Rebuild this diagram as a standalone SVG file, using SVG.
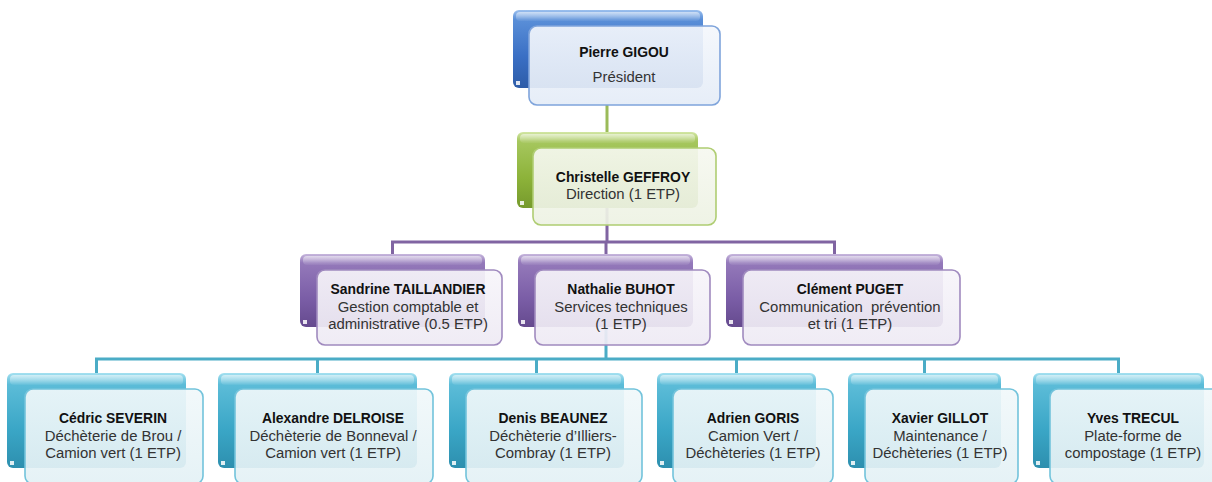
<svg xmlns="http://www.w3.org/2000/svg" width="1212" height="482" viewBox="0 0 1212 482">
<defs>
<linearGradient id="gBlue" x1="0" y1="0" x2="0" y2="1">
<stop offset="0" stop-color="#9cc0ee"/><stop offset="0.12" stop-color="#5a8fd8"/><stop offset="0.6" stop-color="#3a6fc4"/><stop offset="1" stop-color="#2d5ca8"/>
</linearGradient>
<linearGradient id="gGreen" x1="0" y1="0" x2="0" y2="1">
<stop offset="0" stop-color="#d2e6a4"/><stop offset="0.12" stop-color="#a6c75e"/><stop offset="0.6" stop-color="#8db33a"/><stop offset="1" stop-color="#769a2c"/>
</linearGradient>
<linearGradient id="gPurple" x1="0" y1="0" x2="0" y2="1">
<stop offset="0" stop-color="#c6b6dc"/><stop offset="0.12" stop-color="#9479ba"/><stop offset="0.6" stop-color="#7b5ea7"/><stop offset="1" stop-color="#654a8e"/>
</linearGradient>
<linearGradient id="gCyan" x1="0" y1="0" x2="0" y2="1">
<stop offset="0" stop-color="#a4e0f0"/><stop offset="0.12" stop-color="#5cbcd8"/><stop offset="0.6" stop-color="#3aa6c6"/><stop offset="1" stop-color="#2d8fae"/>
</linearGradient>
<linearGradient id="fBlue" x1="0" y1="0" x2="0" y2="1"><stop offset="0" stop-color="#f4f7fc"/><stop offset="1" stop-color="#e4ecf7"/></linearGradient>
<linearGradient id="fGreen" x1="0" y1="0" x2="0" y2="1"><stop offset="0" stop-color="#f6f8f0"/><stop offset="1" stop-color="#edf2e3"/></linearGradient>
<linearGradient id="fPurple" x1="0" y1="0" x2="0" y2="1"><stop offset="0" stop-color="#f7f5fa"/><stop offset="1" stop-color="#eeeaf4"/></linearGradient>
<linearGradient id="fCyan" x1="0" y1="0" x2="0" y2="1"><stop offset="0" stop-color="#f1f8fa"/><stop offset="1" stop-color="#e3f1f5"/></linearGradient>
<linearGradient id="shine" x1="0" y1="0" x2="0" y2="1"><stop offset="0" stop-color="#ffffff" stop-opacity="0.55"/><stop offset="1" stop-color="#ffffff" stop-opacity="0.05"/></linearGradient>
</defs>
<style>
.back{rx:6px;ry:6px;}
.shine{fill:url(#shine);}
.dot{fill:#ffffff;opacity:0.85;}
.front{rx:8px;ry:8px;stroke-width:1.6;fill-opacity:0.92;}
.blue .back{fill:url(#gBlue);} .blue .front{fill:url(#fBlue);stroke:#7fa4db;}
.green .back{fill:url(#gGreen);} .green .front{fill:url(#fGreen);stroke:#afcd72;}
.purple .back{fill:url(#gPurple);} .purple .front{fill:url(#fPurple);stroke:#a08abf;}
.cyan .back{fill:url(#gCyan);} .cyan .front{fill:url(#fCyan);stroke:#72c3db;}
text{font-family:"Liberation Sans",Arial,sans-serif;text-anchor:middle;}
.n{font-size:13.9px;font-weight:bold;fill:#111111;}
.r{font-size:14.9px;fill:#333333;}
.pre{white-space:pre;}
.c{fill:none;stroke-width:3;}
</style>
<g id="connectors">
<path class="c" stroke="#9bbb59" d="M607 105V132"/>
<path class="c" stroke="#8064a2" d="M607 207V242M392.5 254V242H834.5V254M606 242V254"/>
<path class="c" stroke="#4bacc6" d="M606 327V359M96.5 373V359H1118.5V373M317.5 359V373M536.5 359V373M736.5 359V373M924.5 359V373"/>
</g>
<g id="pierre" class="blue">
<rect class="back" x="513" y="10" width="190" height="78"/>
<rect class="shine" x="516" y="12" width="184" height="9" rx="4"/>
<rect class="dot" x="516" y="81" width="4" height="4"/>
<rect class="front" x="529" y="26" width="191" height="79"/>
<text class="n" x="624" y="57">Pierre GIGOU</text>
<text class="r" x="624" y="82">Président</text>
</g>
<g id="christelle" class="green">
<rect class="back" x="517" y="132" width="181" height="76"/>
<rect class="shine" x="520" y="134" width="175" height="9" rx="4"/>
<rect class="dot" x="520" y="201" width="4" height="4"/>
<rect class="front" x="533" y="148" width="183" height="77"/>
<text class="n" x="623" y="182">Christelle GEFFROY</text>
<text class="r" x="623" y="199">Direction (1 ETP)</text>
</g>
<g id="sandrine" class="purple">
<rect class="back" x="300" y="254" width="185" height="73"/>
<rect class="shine" x="303" y="256" width="179" height="9" rx="4"/>
<rect class="dot" x="303" y="320" width="4" height="4"/>
<rect class="front" x="317" y="270" width="185" height="75"/>
<text class="n" x="408" y="294">Sandrine TAILLANDIER</text>
<text class="r" x="408" y="312">Gestion comptable et</text>
<text class="r" x="408" y="329">administrative (0.5 ETP)</text>
</g>
<g id="nathalie" class="purple">
<rect class="back" x="518" y="254" width="175" height="73"/>
<rect class="shine" x="521" y="256" width="169" height="9" rx="4"/>
<rect class="dot" x="521" y="320" width="4" height="4"/>
<rect class="front" x="535" y="270" width="175" height="75"/>
<text class="n" x="621" y="294">Nathalie BUHOT</text>
<text class="r" x="621" y="312">Services techniques</text>
<text class="r" x="621" y="329">(1 ETP)</text>
</g>
<g id="clement" class="purple">
<rect class="back" x="726" y="254" width="217" height="73"/>
<rect class="shine" x="729" y="256" width="211" height="9" rx="4"/>
<rect class="dot" x="729" y="320" width="4" height="4"/>
<rect class="front" x="743" y="270" width="217" height="75"/>
<text class="n" x="850" y="294">Clément PUGET</text>
<text class="r pre" x="850" y="312">Communication  prévention</text>
<text class="r" x="850" y="329">et tri (1 ETP)</text>
</g>
<g id="cedric" class="cyan">
<rect class="back" x="7" y="373" width="179" height="95"/>
<rect class="shine" x="10" y="375" width="173" height="10" rx="4"/>
<rect class="dot" x="10" y="461" width="4" height="4"/>
<rect class="front" x="25" y="389" width="178" height="95"/>
<text class="n" x="113" y="423">Cédric SEVERIN</text>
<text class="r" x="113" y="441">Déchèterie de Brou /</text>
<text class="r" x="113" y="458">Camion vert (1 ETP)</text>
</g>
<g id="alexandre" class="cyan">
<rect class="back" x="218" y="373" width="199" height="95"/>
<rect class="shine" x="221" y="375" width="193" height="10" rx="4"/>
<rect class="dot" x="221" y="461" width="4" height="4"/>
<rect class="front" x="235" y="389" width="198" height="95"/>
<text class="n" x="333" y="423">Alexandre DELROISE</text>
<text class="r" x="333" y="441">Déchèterie de Bonneval /</text>
<text class="r" x="333" y="458">Camion vert (1 ETP)</text>
</g>
<g id="denis" class="cyan">
<rect class="back" x="449" y="373" width="175" height="95"/>
<rect class="shine" x="452" y="375" width="169" height="10" rx="4"/>
<rect class="dot" x="452" y="461" width="4" height="4"/>
<rect class="front" x="466" y="389" width="176" height="95"/>
<text class="n" x="553" y="423">Denis BEAUNEZ</text>
<text class="r" x="553" y="441">Déchèterie d’Illiers-</text>
<text class="r" x="553" y="458">Combray (1 ETP)</text>
</g>
<g id="adrien" class="cyan">
<rect class="back" x="657" y="373" width="159" height="95"/>
<rect class="shine" x="660" y="375" width="153" height="10" rx="4"/>
<rect class="dot" x="660" y="461" width="4" height="4"/>
<rect class="front" x="673" y="389" width="160" height="95"/>
<text class="n" x="753" y="423">Adrien GORIS</text>
<text class="r" x="753" y="441">Camion Vert /</text>
<text class="r" x="753" y="458">Déchèteries (1 ETP)</text>
</g>
<g id="xavier" class="cyan">
<rect class="back" x="848" y="373" width="153" height="95"/>
<rect class="shine" x="851" y="375" width="147" height="10" rx="4"/>
<rect class="dot" x="851" y="461" width="4" height="4"/>
<rect class="front" x="865" y="389" width="153" height="95"/>
<text class="n" x="940" y="423">Xavier GILLOT</text>
<text class="r" x="940" y="441">Maintenance /</text>
<text class="r" x="940" y="458">Déchèteries (1 ETP)</text>
</g>
<g id="yves" class="cyan">
<rect class="back" x="1033" y="373" width="171" height="95"/>
<rect class="shine" x="1036" y="375" width="165" height="10" rx="4"/>
<rect class="dot" x="1036" y="461" width="4" height="4"/>
<rect class="front" x="1050" y="389" width="171" height="95"/>
<text class="n" x="1133" y="423">Yves TRECUL</text>
<text class="r" x="1133" y="441">Plate-forme de</text>
<text class="r" x="1133" y="458">compostage (1 ETP)</text>
</g>
</svg>
